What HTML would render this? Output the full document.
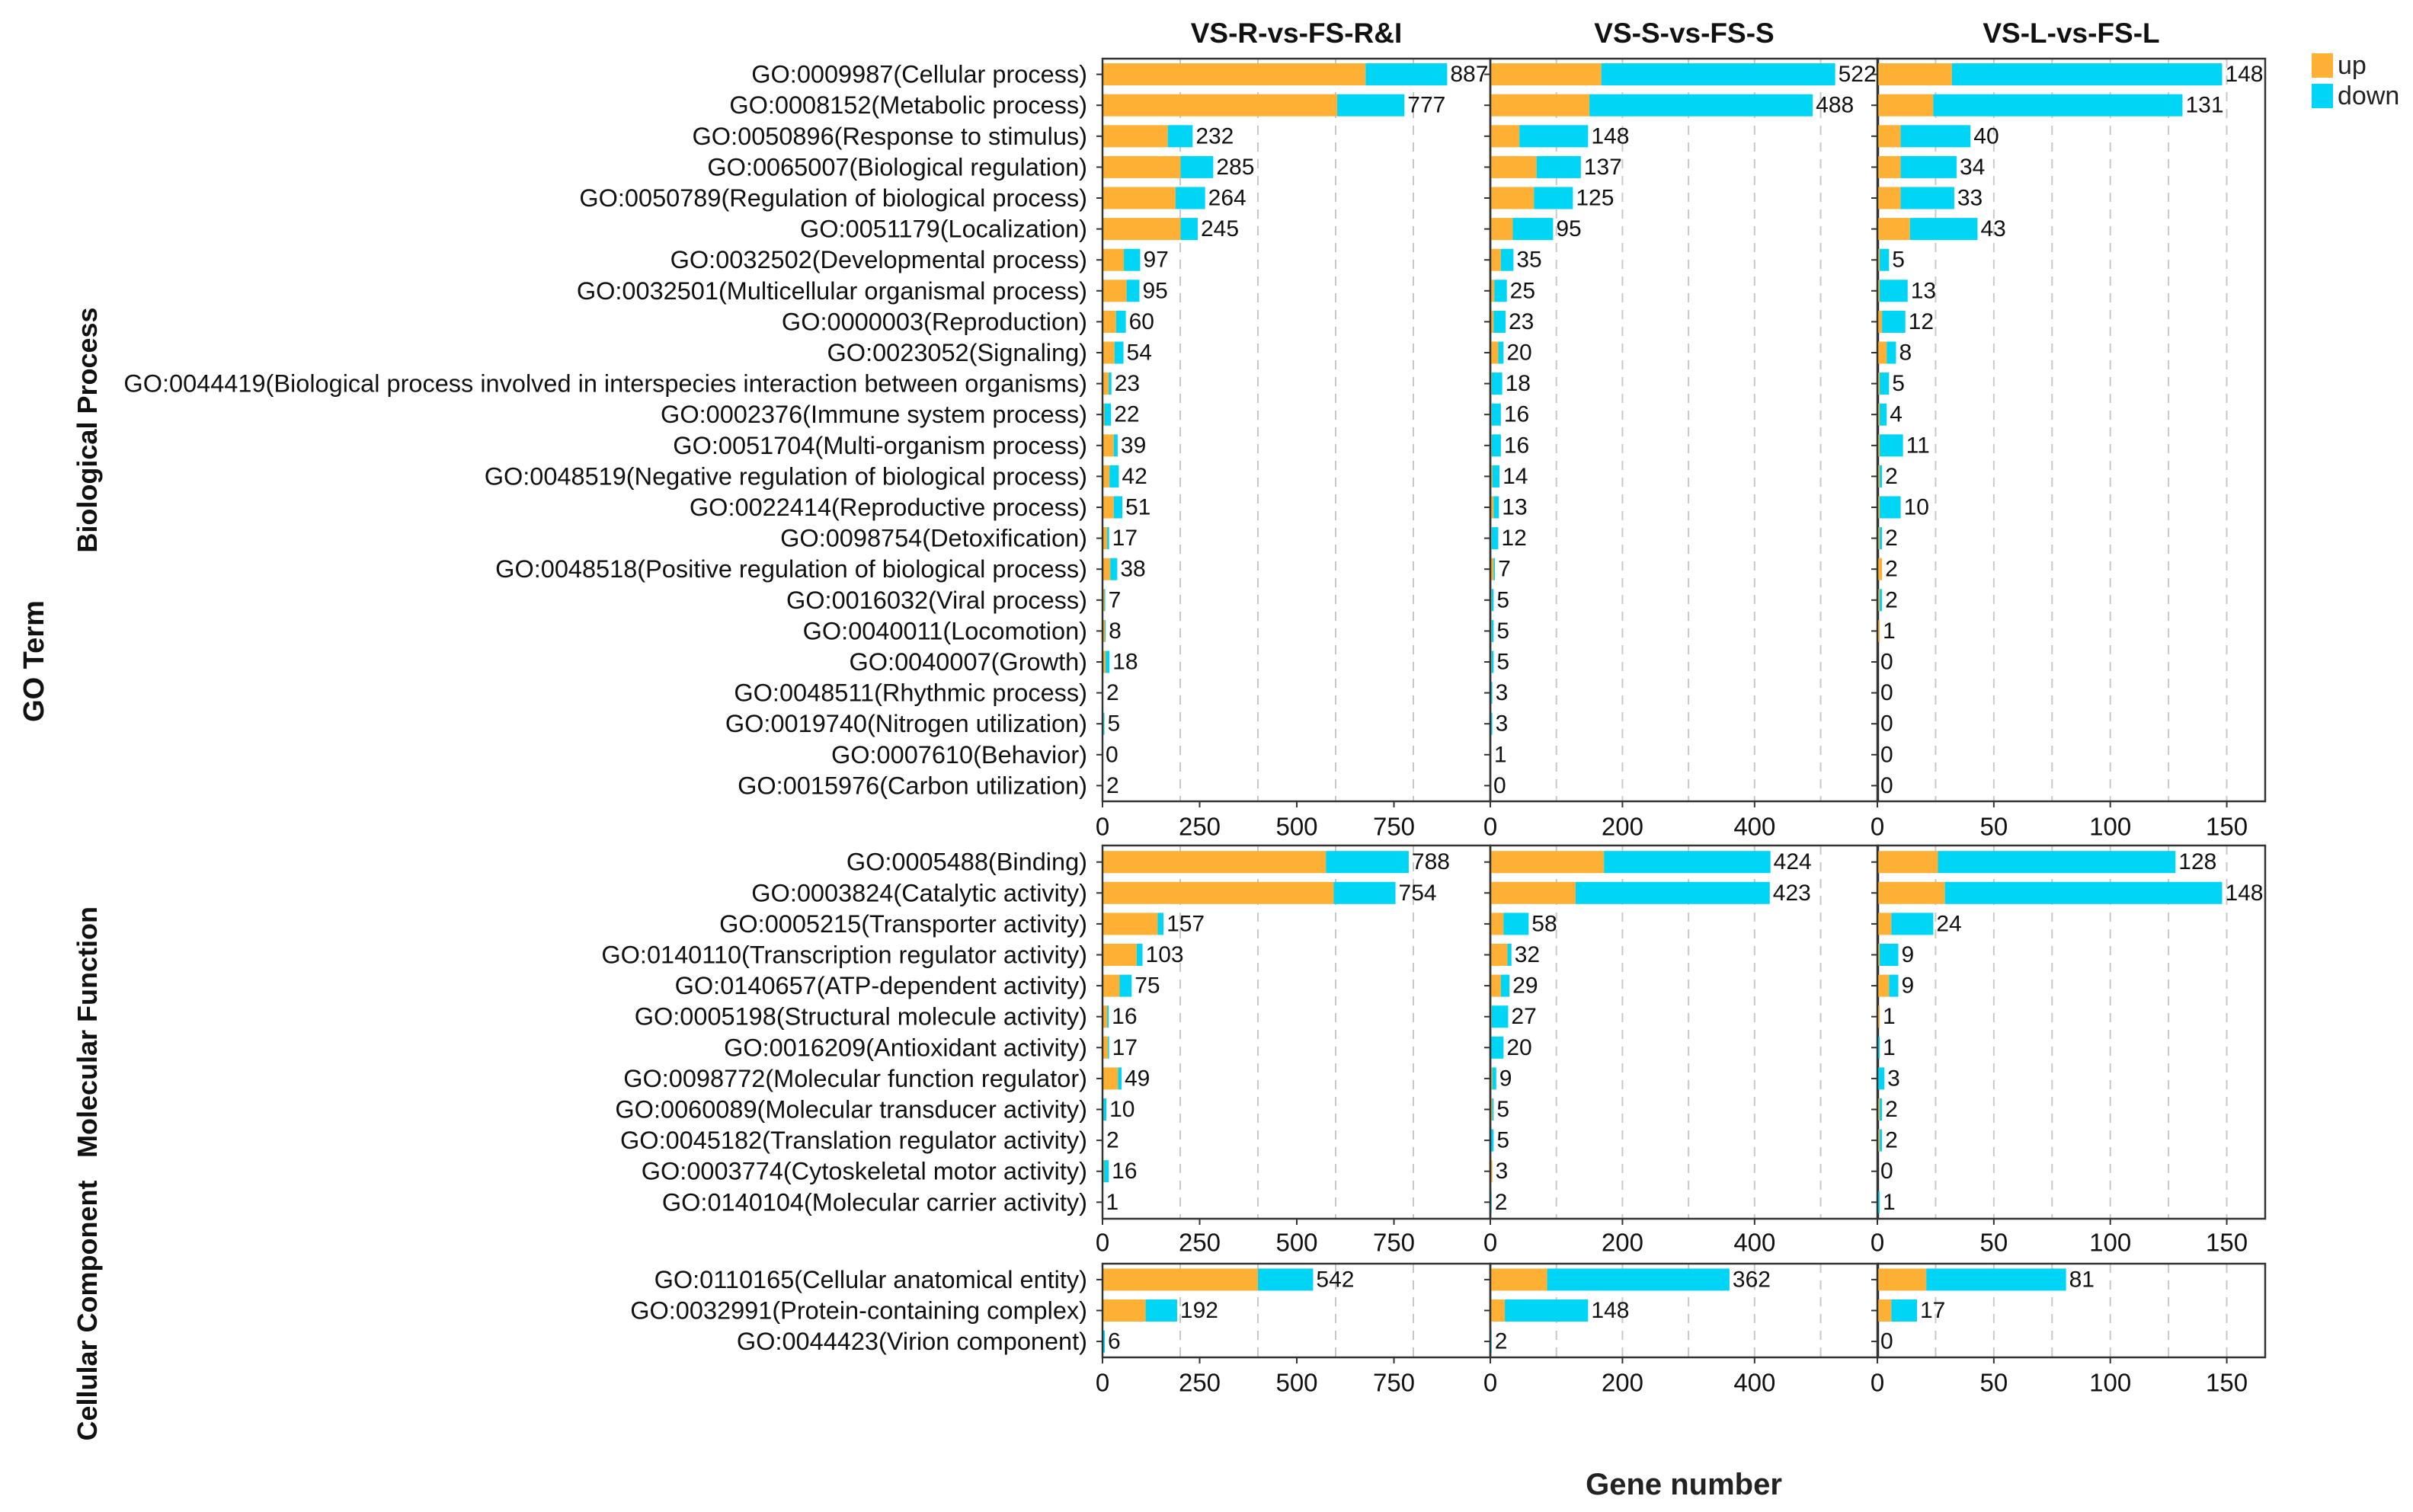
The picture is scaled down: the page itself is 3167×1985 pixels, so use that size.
<!DOCTYPE html>
<html><head><meta charset="utf-8">
<style>
html,body{margin:0;padding:0;background:#fff;}
svg{display:block;font-family:"Liberation Sans",Arial,sans-serif;}
</style></head>
<body>
<svg id="chart" width="3167" height="1985" viewBox="0 0 3167 1985" xmlns="http://www.w3.org/2000/svg">
<rect x="0" y="0" width="3167" height="1985" fill="#fff"/>
</svg>
<script>
// ---- data ----
const comparisons = ["VS-R-vs-FS-R&I","VS-S-vs-FS-S","VS-L-vs-FS-L"];
const bpTerms = ["GO:0009987(Cellular process)","GO:0008152(Metabolic process)","GO:0050896(Response to stimulus)","GO:0065007(Biological regulation)","GO:0050789(Regulation of biological process)","GO:0051179(Localization)","GO:0032502(Developmental process)","GO:0032501(Multicellular organismal process)","GO:0000003(Reproduction)","GO:0023052(Signaling)","GO:0044419(Biological process involved in interspecies interaction between organisms)","GO:0002376(Immune system process)","GO:0051704(Multi-organism process)","GO:0048519(Negative regulation of biological process)","GO:0022414(Reproductive process)","GO:0098754(Detoxification)","GO:0048518(Positive regulation of biological process)","GO:0016032(Viral process)","GO:0040011(Locomotion)","GO:0040007(Growth)","GO:0048511(Rhythmic process)","GO:0019740(Nitrogen utilization)","GO:0007610(Behavior)","GO:0015976(Carbon utilization)"];
const mfTerms = ["GO:0005488(Binding)","GO:0003824(Catalytic activity)","GO:0005215(Transporter activity)","GO:0140110(Transcription regulator activity)","GO:0140657(ATP-dependent activity)","GO:0005198(Structural molecule activity)","GO:0016209(Antioxidant activity)","GO:0098772(Molecular function regulator)","GO:0060089(Molecular transducer activity)","GO:0045182(Translation regulator activity)","GO:0003774(Cytoskeletal motor activity)","GO:0140104(Molecular carrier activity)"];
const ccTerms = ["GO:0110165(Cellular anatomical entity)","GO:0032991(Protein-containing complex)","GO:0044423(Virion component)"];

const bpTotalR = [887,777,232,285,264,245,97,95,60,54,23,22,39,42,51,17,38,7,8,18,2,5,0,2];
const bpUpR    = [677,604,168,201,188,201,55,62,35,31,16,5,29,18,29,12,20,5,6,8,2,3,0,1];
const bpTotalS = [522,488,148,137,125,95,35,25,23,20,18,16,16,14,13,12,7,5,5,5,3,3,1,0];
const bpUpS    = [168,150,44,70,66,34,16,6,5,12,2,2,2,3,5,2,5,2,2,2,1,1,0,0];
const bpTotalL = [148,131,40,34,33,43,5,13,12,8,5,4,11,2,10,2,2,2,1,0,0,0,0,0];
const bpUpL    = [32,24,10,10,10,14,1,1,2,4,1,1,1,1,1,1,2,1,1,0,0,0,0,0];

const mfTotalR = [788,754,157,103,75,16,17,49,10,2,16,1];
const mfUpR    = [575,595,142,88,44,12,14,40,3,1,4,0];
const mfTotalS = [424,423,58,32,29,27,20,9,5,5,3,2];
const mfUpS    = [172,129,20,26,16,2,1,3,3,1,3,1];
const mfTotalL = [128,148,24,9,9,1,1,3,2,2,0,1];
const mfUpL    = [26,29,6,1,5,1,0,0,1,1,0,0];

const ccTotalR = [542,192,6];
const ccUpR    = [400,111,2];
const ccTotalS = [362,148,2];
const ccUpS    = [86,22,0];
const ccTotalL = [81,17,0];
const ccUpL    = [21,6,0];

const axisMax = [998,587,166.5];
const tickVals = [[0,250,500,750],[0,200,400],[0,50,100,150]];
const gridVals = [[200,400,600,800],[100,200,300,400,500],[25,50,75,100,125,150]];

// ---- layout ----
const NS="http://www.w3.org/2000/svg";
const svg=document.getElementById('chart');
const colX=[1447,1956,2464], colW=509;
const UP="#FDB034", DOWN="#00D5F6";
const BAND=40.6, BARH=29;
function el(tag,attrs,parent){const e=document.createElementNS(NS,tag);for(const k in attrs)e.setAttribute(k,attrs[k]);(parent||svg).appendChild(e);return e;}
function xScale(c,v){return colX[c]+v/axisMax[c]*colW;}

const facets=[
 {key:"bp",terms:bpTerms,tot:[bpTotalR,bpTotalS,bpTotalL],up:[bpUpR,bpUpS,bpUpL],y0:77,y1:1052,label:"Biological Process",axisY:1085},
 {key:"mf",terms:mfTerms,tot:[mfTotalR,mfTotalS,mfTotalL],up:[mfUpR,mfUpS,mfUpL],y0:1110,y1:1600,label:"Molecular Function",axisY:1631},
 {key:"cc",terms:ccTerms,tot:[ccTotalR,ccTotalS,ccTotalL],up:[ccUpR,ccUpS,ccUpL],y0:1659,y1:1782,label:"Cellular Component",axisY:1815}
];

facets.forEach(f=>{
  const n=f.terms.length;
  const pad=(f.y1-f.y0-(n-1)*BAND)/2;
  const yPos=i=>f.y0+pad+i*BAND;
  f.terms.forEach((t,i)=>{
    const tx=el('text',{x:1427,y:yPos(i),'text-anchor':'end','dominant-baseline':'central','font-size':32.5,fill:'#111'});
    tx.textContent=t;
    
    
  });
  for(let c=0;c<3;c++){
    const g=el('g',{});
    
    
    gridVals[c].forEach(v=>{
      const gx=xScale(c,v);
      const gl=el('line',{x1:gx,x2:gx,y1:f.y0,y2:f.y1,stroke:'#c8c8c8','stroke-width':2,'stroke-dasharray':'12,10'},g);
      
      
    });
    for(let i=0;i<n;i++){
      const y=yPos(i);
      const tot=f.tot[c][i], up=f.up[c][i];
      const rb=el('rect',{x:colX[c],y:y-BARH/2,width:xScale(c,up)-colX[c],height:BARH,fill:UP},g);
      
      
      const rd=el('rect',{x:xScale(c,up),y:y-BARH/2,width:xScale(c,tot)-xScale(c,up),height:BARH,fill:DOWN},g);
      
      
      const vl=el('text',{x:xScale(c,tot)+4,y:y,'dominant-baseline':'central','font-size':30,fill:'#111'},g);
      vl.textContent=tot;
      
      
      el('line',{x1:colX[c]-8,x2:colX[c],y1:y,y2:y,stroke:'#333','stroke-width':2},g);
    }
    const bd=el('rect',{x:colX[c],y:f.y0,width:colW,height:f.y1-f.y0,fill:'none',stroke:'#333','stroke-width':2.5},g);
    
    
    tickVals[c].forEach(v=>{
      const tx=xScale(c,v);
      el('line',{x1:tx,x2:tx,y1:f.y1,y2:f.y1+8,stroke:'#333','stroke-width':2},g);
      const tl=el('text',{x:tx,y:f.axisY,'text-anchor':'middle','dominant-baseline':'central','font-size':33,fill:'#111'},g);
      tl.textContent=v;
      
      
    });
  }
  const fl=el('text',{x:0,y:0,'text-anchor':'middle','font-size':36,'font-weight':'bold',fill:'#111',transform:`translate(127,${(f.y0+f.y1)/2}) rotate(-90)`});
  fl.textContent=f.label;
  
  
});

comparisons.forEach((t,c)=>{
  const tt=el('text',{x:colX[c]+colW/2,y:56,'text-anchor':'middle','font-size':37,'font-weight':'bold',fill:'#111'});
  tt.textContent=t;
  
  
});

const yt=el('text',{x:0,y:0,'text-anchor':'middle','font-size':38,'font-weight':'bold',fill:'#111',transform:'translate(57,868) rotate(-90)'});
yt.textContent="GO Term";



const xt=el('text',{x:2210,y:1962,'text-anchor':'middle','font-size':40,'font-weight':'bold',fill:'#222'});
xt.textContent="Gene number";



const legend=el('g',{});


[["up",UP,70],["down",DOWN,110]].forEach(([lab,col,y])=>{
  const r=el('rect',{x:3034,y:y,width:28,height:32,fill:col},legend);
  
  
  const t=el('text',{x:3068,y:y+16,'dominant-baseline':'central','font-size':34,fill:'#222'},legend);
  t.textContent=lab;
  
  
});
</script>
</body></html>
